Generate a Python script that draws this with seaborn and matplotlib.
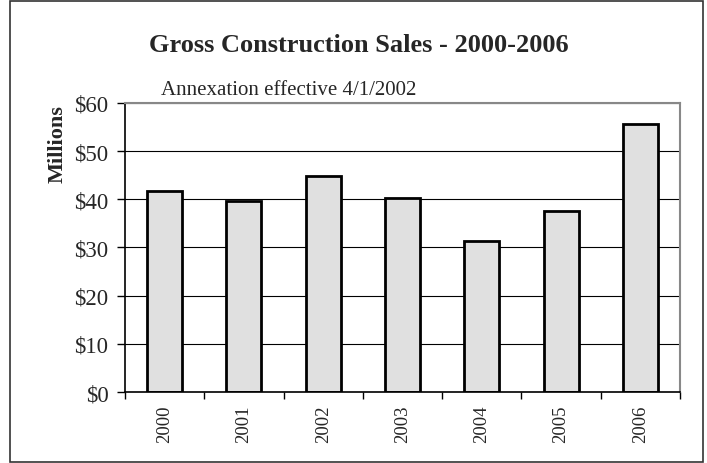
import seaborn as sns
import matplotlib.pyplot as plt
import pandas as pd
from matplotlib.patches import Rectangle
from matplotlib.ticker import FuncFormatter, FixedLocator

years = ['2000', '2001', '2002', '2003', '2004', '2005', '2006']
sales = [41.7, 39.7, 44.8, 40.2, 31.3, 37.5, 55.7]

df = pd.DataFrame({'year': years, 'sales': sales})

sns.set_style("white")
plt.rcParams['font.family'] = ['Liberation Serif', 'DejaVu Serif']

fig = plt.figure(figsize=(7.07, 4.64), dpi=100)
ax = fig.add_axes([0.1768, 0.153, 0.785, 0.623])

sns.barplot(data=df, x='year', y='sales', color='#e0e0e0', edgecolor='black',
            linewidth=2, width=0.44, saturation=1, ax=ax)

ax.set_ylim(0, 60)
ax.set_xlim(-0.5, 6.5)
ax.set_yticks(range(0, 61, 10))
ax.yaxis.set_major_formatter(FuncFormatter(lambda v, p: f'${v:.0f}'))
ax.grid(axis='y', color='black', linewidth=0.8)
ax.set_axisbelow(True)

ax.tick_params(axis='y', direction='out', length=6, width=1, color='black',
               labelsize=16.5, pad=6, left=True)
ax.tick_params(axis='x', length=0, labelsize=13.5, pad=9, labelrotation=90)
ax.xaxis.set_minor_locator(FixedLocator([i - 0.5 for i in range(8)]))
ax.tick_params(axis='x', which='minor', direction='out', length=5, width=1,
               color='black', bottom=True)

for s in ['left', 'bottom']:
    ax.spines[s].set_color('black')
    ax.spines[s].set_linewidth(1.2)
for s in ['top', 'right']:
    ax.spines[s].set_color('#888888')
    ax.spines[s].set_linewidth(1.5)

ax.set_xlabel('')
ax.set_ylabel('Millions', fontsize=16, fontweight='bold')
ax.yaxis.set_label_coords(-0.103, 0.86)

fig.text(0.507, 0.903, 'Gross Construction Sales - 2000-2006', ha='center',
         va='center', fontsize=19, fontweight='bold')
fig.text(0.228, 0.805, 'Annexation effective 4/1/2002', ha='left',
         va='center', fontsize=15)

fig.patches.append(Rectangle((10 / 707, 1 / 464), 693 / 707, 461 / 464,
                             transform=fig.transFigure, fill=False,
                             edgecolor='#333333', linewidth=1.2))

fig.savefig('out.png', dpi=100)
